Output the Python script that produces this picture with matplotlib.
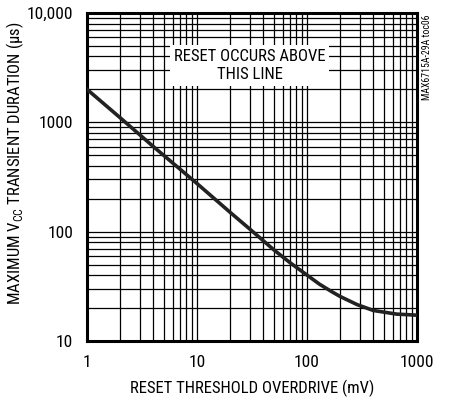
import numpy as np
import matplotlib.pyplot as plt
from matplotlib.ticker import FixedLocator, FixedFormatter, NullFormatter

plt.rcParams['font.family'] = ['Roboto Condensed', 'Liberation Sans Narrow', 'Liberation Sans', 'DejaVu Sans']

# curve (mV, us)
overdrive = [1, 2, 4, 10, 20, 30, 50, 70, 100, 130, 170, 200, 285, 400, 650, 1000]
duration = [2000, 1100, 600, 275, 150, 106, 68, 52, 40, 33, 28, 25.5, 21.5, 19, 17.6, 17.2]

x_ticks = [1, 10, 100, 1000]
x_labels = ['1', '10', '100', '1000']
y_ticks = [10, 100, 1000, 10000]
y_labels = ['10', '100', '1000', '10,000']

fig = plt.figure(figsize=(4.51, 4.03), dpi=100)
ax = fig.add_axes([0.193, 0.154, 0.7317, 0.8139])

ax.plot(overdrive, duration, color='#222222', lw=2.6, solid_joinstyle='round', zorder=3)

ax.set_xscale('log')
ax.set_yscale('log')
ax.set_xlim(1, 1000)
ax.set_ylim(10, 10000)

ax.xaxis.set_major_locator(FixedLocator(x_ticks))
ax.xaxis.set_major_formatter(FixedFormatter(x_labels))
ax.yaxis.set_major_locator(FixedLocator(y_ticks))
ax.yaxis.set_major_formatter(FixedFormatter(y_labels))
ax.xaxis.set_minor_formatter(NullFormatter())
ax.yaxis.set_minor_formatter(NullFormatter())

ax.grid(True, which='both', color='black', lw=0.9)
ax.tick_params(which='both', length=0, labelsize=12.5, pad=10)
for s in ax.spines.values():
    s.set_linewidth(2.2)

ax.set_xlabel('RESET THRESHOLD OVERDRIVE (mV)', fontsize=12, labelpad=7)
ax.set_ylabel('MAXIMUM V$_{\\mathregular{CC}}$ TRANSIENT DURATION (\u00b5s)', fontsize=12)
ax.yaxis.set_label_coords(-0.185, 0.543)

ax.text(30, 3300, 'RESET OCCURS ABOVE\nTHIS LINE', fontsize=12, ha='center', va='center',
        linespacing=1.2, bbox=dict(facecolor='white', edgecolor='none', pad=3), zorder=4)

fig.text(0.947, 0.965, 'MAX6715A-29A toc06', rotation=90, fontsize=7, ha='center', va='top')

fig.savefig('out.png', dpi=100)
